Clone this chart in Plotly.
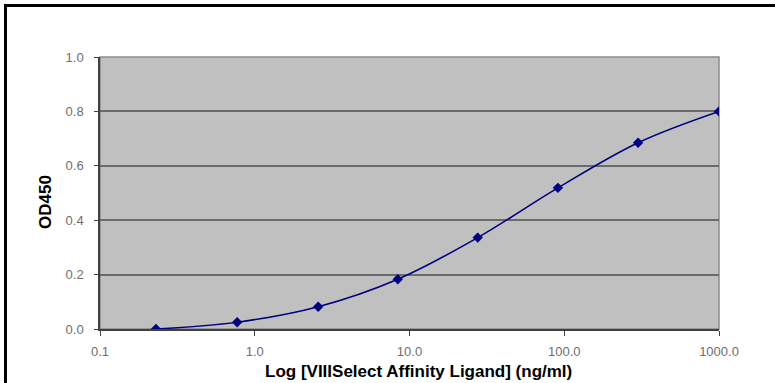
import plotly.graph_objects as go

# Data
concentration = [0.23, 0.77, 2.57, 8.4, 27.6, 91.0, 300.0, 1000.0]
od450 = [0.0, 0.025, 0.082, 0.183, 0.336, 0.519, 0.685, 0.80]

x_tick_vals = [0.1, 1, 10, 100, 1000]
x_tick_text = ["0.1", "1.0", "10.0", "100.0", "1000.0"]
y_tick_vals = [0.0, 0.2, 0.4, 0.6, 0.8, 1.0]
y_tick_text = ["0.0", "0.2", "0.4", "0.6", "0.8", "1.0"]

x_title = "Log [VIIISelect Affinity Ligand] (ng/ml)"
y_title = "OD450"

W, H = 775, 383
# plot area in pixels: x 100..719, y 57..329
L, T = 100, 57
pw, ph = 619, 272
R = W - L - pw
B = H - T - ph


def px_x(p):
    return (p - L) / pw


def px_y(p):
    return (T + ph - p) / ph


fig = go.Figure()
fig.add_trace(go.Scatter(
    x=concentration, y=od450,
    mode="lines+markers",
    line=dict(color="#000080", width=1.6, shape="spline", smoothing=1.0),
    marker=dict(symbol="diamond", size=8, color="#000080"),
    showlegend=False,
    hoverinfo="skip",
))

tick_font = dict(family="Liberation Sans, Arial, sans-serif", size=13, color="#6e6e6e")
title_font = dict(family="Liberation Sans, Arial, sans-serif", size=17, color="#000000")

fig.update_layout(
    width=W, height=H,
    margin=dict(l=L, r=R, t=T, b=B, pad=0),
    paper_bgcolor="#ffffff",
    plot_bgcolor="#c0c0c0",
    xaxis=dict(
        type="log", range=[-1, 3],
        tickvals=x_tick_vals, ticktext=x_tick_text,
        ticks="outside", ticklen=5, tickwidth=1.2, tickcolor="#404040",
        showgrid=False, zeroline=False,
        showline=True, linecolor="#404040", linewidth=1.5,
        tickfont=tick_font, ticklabelstandoff=5,
    ),
    yaxis=dict(
        range=[0, 1],
        tickvals=y_tick_vals, ticktext=y_tick_text,
        ticks="outside", ticklen=4, tickwidth=1.2, tickcolor="#404040",
        showgrid=True, gridcolor="#6a6a6a", gridwidth=1.5,
        zeroline=False,
        showline=True, linecolor="#404040", linewidth=1.5,
        tickfont=tick_font, ticklabelstandoff=8,
    ),
    shapes=[
        dict(type="rect", xref="paper", yref="paper", x0=0, y0=0, x1=1, y1=1,
             line=dict(color="#8a8a8a", width=1.5), layer="below"),
        # outer frame: top and left edges only (others lie outside the view)
        dict(type="line", xref="paper", yref="paper",
             x0=px_x(4), y0=px_y(5.5), x1=px_x(W), y1=px_y(5.5),
             line=dict(color="#000000", width=3)),
        dict(type="line", xref="paper", yref="paper",
             x0=px_x(5.5), y0=px_y(4), x1=px_x(5.5), y1=px_y(H),
             line=dict(color="#000000", width=3)),
        # keep the right edge of the page clean
        dict(type="rect", xref="paper", yref="paper",
             x0=px_x(769), y0=px_y(H + 5), x1=px_x(W + 5), y1=px_y(7),
             line=dict(width=0), fillcolor="#ffffff"),
    ],
    annotations=[
        dict(text="<b>" + x_title + "</b>", xref="paper", yref="paper",
             x=px_x(418), y=px_y(371), xanchor="center", yanchor="middle",
             showarrow=False, font=title_font),
        dict(text="<b>" + y_title + "</b>", xref="paper", yref="paper",
             x=px_x(45), y=px_y(202), xanchor="center", yanchor="middle",
             textangle=-90, showarrow=False, font=title_font),
    ],
)

fig.write_html(
    "out.html",
    config={"displayModeBar": False},
    post_script="document.documentElement.style.margin='0';document.body.style.margin='0';",
)
